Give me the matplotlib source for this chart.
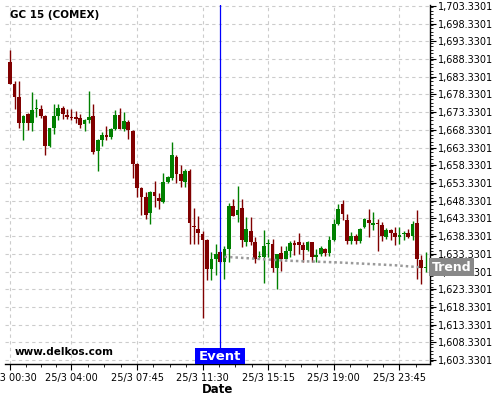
# Candlestick chart of GC 15 (COMEX) with event marker and trend line

import numpy as np
import matplotlib
matplotlib.use("Agg")
import matplotlib.pyplot as plt
import matplotlib.transforms as mtransforms
from matplotlib.patches import Rectangle
from matplotlib.ticker import FixedLocator, FuncFormatter, MultipleLocator

# OHLC values of the 15 minute candles
opens = [1687.6, 1681.4, 1677.5, 1670.2, 1672.8, 1670.2, 1674.2, 1674.2, 1672.3, 1663.8,
         1668.8, 1672.3, 1674.6, 1672.5, 1672.0, 1672.1, 1671.7, 1669.9, 1671.0, 1672.3,
         1662.3, 1665.6, 1667.0, 1666.2, 1668.5, 1672.6, 1668.6, 1670.6, 1668.1, 1658.8,
         1651.9, 1649.3, 1644.9, 1650.9, 1649.2, 1648.1, 1653.7, 1654.7, 1660.8, 1655.9,
         1653.6, 1656.8, 1641.1, 1640.2, 1638.8, 1637.1, 1629.1, 1631.8, 1633.9, 1631.0,
         1634.7, 1646.7, 1644.2, 1646.2, 1636.6, 1639.9, 1636.6, 1632.4, 1632.4, 1636.1,
         1636.0, 1629.3, 1633.6, 1632.0, 1634.1, 1636.4, 1636.6, 1635.7, 1634.3, 1636.6,
         1632.3, 1633.4, 1634.8, 1633.6, 1637.3, 1641.7, 1647.3, 1642.8, 1636.9, 1638.5,
         1636.9, 1640.9, 1642.8, 1641.7, 1641.9, 1641.6, 1638.2, 1640.0, 1639.1, 1638.0,
         1639.0, 1639.1, 1638.3, 1642.1, 1631.5, 1629.5]
highs = [1690.8, 1682.0, 1682.0, 1672.6, 1673.0, 1678.9, 1677.0, 1675.4, 1672.5, 1668.9,
         1675.6, 1675.6, 1675.1, 1674.2, 1674.3, 1673.7, 1672.7, 1671.3, 1679.2, 1675.5,
         1665.8, 1667.6, 1669.3, 1669.0, 1674.0, 1674.5, 1673.5, 1671.0, 1668.3, 1659.0,
         1652.3, 1650.9, 1651.1, 1653.9, 1650.4, 1656.2, 1655.3, 1665.0, 1661.3, 1658.5,
         1657.2, 1657.3, 1646.2, 1644.1, 1639.8, 1637.6, 1633.8, 1636.2, 1634.0, 1635.5,
         1647.7, 1648.9, 1652.6, 1648.9, 1643.7, 1643.7, 1638.0, 1634.2, 1640.1, 1637.6,
         1637.6, 1633.4, 1635.6, 1635.5, 1636.9, 1637.1, 1639.3, 1636.6, 1637.0, 1636.8,
         1634.8, 1635.6, 1635.0, 1638.5, 1643.3, 1647.4, 1648.5, 1644.5, 1639.4, 1639.0,
         1640.5, 1643.5, 1645.9, 1645.0, 1643.1, 1642.3, 1640.7, 1640.2, 1640.8, 1640.8,
         1639.7, 1640.2, 1642.5, 1645.6, 1632.9, 1633.8]
lows = [1681.2, 1674.2, 1668.9, 1665.5, 1668.3, 1668.1, 1672.1, 1671.7, 1661.3, 1663.6,
        1667.2, 1671.2, 1671.3, 1671.4, 1671.2, 1670.3, 1668.8, 1668.0, 1670.2, 1661.4,
        1656.8, 1663.9, 1665.6, 1665.8, 1668.3, 1668.5, 1668.0, 1665.7, 1654.7, 1649.3,
        1644.2, 1643.1, 1641.8, 1646.5, 1646.1, 1647.8, 1653.2, 1654.2, 1653.4, 1652.3,
        1652.3, 1636.2, 1636.2, 1636.2, 1615.1, 1625.9, 1625.9, 1627.4, 1630.8, 1626.3,
        1631.0, 1644.0, 1642.3, 1635.3, 1635.4, 1635.7, 1630.6, 1632.0, 1625.2, 1632.4,
        1628.2, 1623.5, 1628.5, 1631.8, 1632.4, 1632.9, 1633.4, 1631.0, 1634.0, 1630.9,
        1630.9, 1632.6, 1632.8, 1632.8, 1637.0, 1641.5, 1643.0, 1636.2, 1636.2, 1636.2,
        1636.5, 1640.5, 1638.0, 1640.0, 1634.0, 1636.9, 1637.5, 1637.3, 1635.8, 1636.2,
        1637.3, 1637.8, 1637.3, 1626.3, 1624.7, 1628.2]
closes = [1681.4, 1677.5, 1670.2, 1672.3, 1670.2, 1673.9, 1674.6, 1672.3, 1663.8, 1668.8,
          1672.3, 1674.6, 1672.8, 1672.1, 1671.7, 1671.4, 1669.7, 1671.2, 1672.0, 1662.0,
          1665.5, 1667.0, 1666.2, 1668.5, 1672.6, 1668.6, 1670.9, 1668.2, 1658.8, 1651.9,
          1649.3, 1644.4, 1650.7, 1649.6, 1648.2, 1653.6, 1654.9, 1661.1, 1655.9, 1653.8,
          1656.8, 1642.0, 1640.9, 1639.3, 1637.1, 1629.1, 1631.8, 1633.4, 1631.0, 1634.6,
          1646.7, 1644.0, 1645.8, 1637.3, 1640.2, 1636.6, 1632.0, 1632.6, 1635.4, 1636.3,
          1629.3, 1633.4, 1632.0, 1634.1, 1636.4, 1635.9, 1635.7, 1634.3, 1636.6, 1632.3,
          1632.9, 1635.0, 1633.6, 1637.3, 1641.7, 1646.1, 1644.5, 1636.9, 1638.5, 1636.9,
          1640.2, 1643.1, 1642.0, 1641.8, 1641.7, 1638.3, 1640.0, 1639.1, 1638.0, 1638.7,
          1639.1, 1638.1, 1641.8, 1631.8, 1629.3, 1629.6]

# Time axis labels (candle index -> label)
tick_idx = [0, 14, 29, 44, 59, 74, 89]
tick_labels = ["25/3 00:30", "25/3 04:00", "25/3 07:45", "25/3 11:30",
               "25/3 15:15", "25/3 19:00", "25/3 23:45"]

# Event candle and trend line points
event_idx = 48
trend_idx = [49, 63, 75, 88, 94]
trend_vals = [1632.5, 1631.4, 1630.9, 1630.1, 1629.5]

# Price ticks
price_ticks = [1603.3301 + 5 * k for k in range(21)]

UP = "#008000"
DOWN = "#800000"

fig = plt.figure(figsize=(5, 4), dpi=100)
ax = fig.add_axes([0.01, 0.089, 0.85, 0.8985])

o = np.array(opens)
h = np.array(highs)
l = np.array(lows)
c = np.array(closes)
x = np.arange(len(o))
colors = [UP if cc >= oo else DOWN for oo, cc in zip(o, c)]

# Grid first so candles sit on top
ax.set_axisbelow(True)
ax.grid(True, which="major", color="#cccccc", linestyle=(0, (3, 3)), linewidth=0.8)

# Wicks and bodies
ax.vlines(x, l, h, colors=colors, linewidth=1, zorder=2)
body_h = np.maximum(np.abs(c - o), 0.3)
body_b = np.minimum(o, c)
body_b = np.where(np.abs(c - o) < 0.3, (o + c) / 2 - 0.15, body_b)
ax.bar(x, body_h, bottom=body_b, width=0.85, color=colors, linewidth=0, zorder=3)

# Event line and its label box at the bottom
ax.axvline(event_idx, color="#0000ff", linewidth=0.9, zorder=4)
trans = mtransforms.blended_transform_factory(ax.transData, ax.transAxes)
box_w = 11.4  # in candle units (~50 px)
ax.add_patch(Rectangle((event_idx - box_w / 2, 0), box_w, 0.045, transform=trans,
                       facecolor="#0000ff", edgecolor="none", zorder=5))
ax.text(event_idx, 0.0225, "Event", transform=trans, ha="center", va="center",
        color="white", fontsize=9.5, fontweight="bold", zorder=6)

# Trend line
ax.plot(trend_idx, trend_vals, color="#999999", linestyle=(0, (1, 1.2)),
        linewidth=1.8, zorder=4)
trans2 = mtransforms.blended_transform_factory(ax.transAxes, ax.transData)
ax.text(1.004, trend_vals[-1], "Trend", transform=trans2, ha="left", va="center",
        color="white", fontsize=9, fontweight="bold", clip_on=False, zorder=6,
        bbox=dict(boxstyle="square,pad=0.2", fc="#888888", ec="none"))

# Texts
ax.text(0.012, 0.985, "GC 15 (COMEX)", transform=ax.transAxes, fontsize=7.5,
        fontweight="bold", ha="left", va="top")
ax.text(0.023, 0.02, "www.delkos.com", transform=ax.transAxes, fontsize=7.5,
        fontweight="bold", ha="left", va="bottom")

# Axes limits and ticks
ax.set_xlim(-1.2, 96)
ax.set_ylim(1602.1, 1703.6)

ax.yaxis.tick_right()
ax.yaxis.set_major_locator(FixedLocator(price_ticks))
ax.yaxis.set_major_formatter(FuncFormatter(lambda v, p: "{:,.4f}".format(v)))
ax.yaxis.set_minor_locator(MultipleLocator(1))

ax.xaxis.set_major_locator(FixedLocator(tick_idx))
ax.set_xticklabels(tick_labels)
minor = []
for a, b in zip(tick_idx[:-1], tick_idx[1:]):
    minor += list(np.linspace(a, b, 5)[1:-1])
minor += [tick_idx[-1] + 3.75]
ax.xaxis.set_minor_locator(FixedLocator(minor))

ax.tick_params(axis="both", which="major", labelsize=7, length=4, width=0.8, pad=2)
ax.tick_params(axis="both", which="minor", length=2, width=0.6)
ax.set_xlabel("Date", fontsize=8.5, fontweight="bold", labelpad=0)

ax.spines["top"].set_visible(False)
ax.spines["left"].set_visible(False)
ax.spines["right"].set_linewidth(1)
ax.spines["bottom"].set_linewidth(1)

fig.savefig("out.png", dpi=100)
